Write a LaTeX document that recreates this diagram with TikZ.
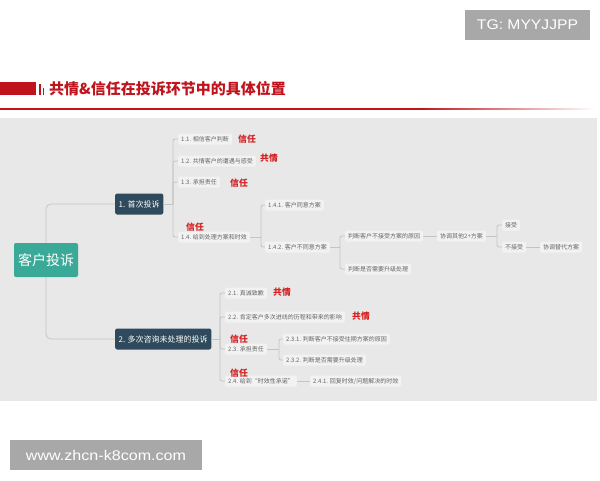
\documentclass[tikz,border=0pt]{standalone}
\usepackage{fontspec}
\setmainfont{Liberation Sans}
\newfontfamily\cjk{Noto Sans CJK SC}
\usetikzlibrary{positioning}
\definecolor{panelbg}{HTML}{E8E8E8}
\definecolor{leafbg}{HTML}{F2F2F2}
\definecolor{leaftx}{HTML}{666666}
\definecolor{darkbox}{HTML}{2E4A5C}
\definecolor{tealbox}{HTML}{3BA997}
\definecolor{tagred}{HTML}{D41F1F}
\definecolor{titlered}{HTML}{C0141C}
\definecolor{linkgray}{HTML}{C4C4C4}
\definecolor{wmgray}{HTML}{A8A8A8}
\tikzset{
  leaf/.style={anchor=west, fill=leafbg, rounded corners=1.5pt, inner xsep=3pt, inner ysep=0pt,
    minimum height=11pt, text=leaftx, font=\cjk\fontsize{6}{6.5}\selectfont},
  mainbox/.style={anchor=west, fill=darkbox, rounded corners=2pt, inner xsep=3.5pt, inner ysep=0pt,
    minimum height=21pt, text=white, font=\cjk\fontsize{8}{9}\selectfont},
  tag/.style={anchor=west, inner sep=0pt, text=tagred, font=\cjk\bfseries\fontsize{8.8}{9}\selectfont},
  link/.style={draw=linkgray, line width=0.8pt, rounded corners=2pt},
  wm/.style={fill=wmgray, inner sep=0pt}
}
\begin{document}
\begin{tikzpicture}[x=1pt,y=-1pt]
\useasboundingbox (0,0) rectangle (600,480);
\fill[white] (0,0) rectangle (600,480);
% watermark top
\node[wm, minimum width=125pt, minimum height=30pt] (tg) at (527.5,25) {};
\node[text=white, inner sep=0pt, font=\fontsize{14}{15}\selectfont, xscale=1.12, transform shape] (tgt) at (tg.center) {TG: MYYJJPP};
% title
\fill[titlered] (0,82) rectangle (36,95);
\fill[titlered] (38.5,84) rectangle (40.5,95);
\fill[titlered] (42.5,88) rectangle (43.8,95);
\node[anchor=west, inner sep=0pt, text=titlered, font=\cjk\bfseries\fontsize{15}{16}\selectfont] (title) at (49,89) {共情\&信任在投诉环节中的具体位置};
\fill[titlered] (0,108.2) rectangle (420,109.6);
\shade[left color=titlered, right color=white] (420,108.2) rectangle (596,109.6);
% panel
\fill[panelbg] (0,118) rectangle (597,401);
% root
\node[fill=tealbox, rounded corners=2pt, minimum width=64pt, minimum height=34pt, inner sep=0pt,
  text=white, font=\cjk\fontsize{14}{15}\selectfont] (root) at (46,260) {客户投诉};
\node[mainbox] (n1) at (115,204) {1. 首次投诉};
\node[mainbox] (n2) at (115,339) {2. 多次咨询未处理的投诉};
\draw[link, rounded corners=5pt] (root.north) |- (n1.west);
\draw[link, rounded corners=5pt] (root.south) |- (n2.west);
% branch 1
\node[leaf] (n11) at (178,139) {1.1. 相信客户判断};
\node[leaf] (n12) at (178,161) {1.2. 共情客户的遭遇与感受};
\node[leaf] (n13) at (178,182) {1.3. 承担责任};
\node[leaf] (n14) at (178,237) {1.4. 给到处理方案和时效};
\node[tag] (t11) at (238,139) {信任};
\node[tag] (t12) at (260,158) {共情};
\node[tag] (t13) at (230,183) {信任};
\node[tag] (t14) at (186,227) {信任};
\coordinate (b1) at (173,204);
\draw[link] (n1.east) -- (b1);
\foreach \c in {n11,n12,n13,n14} \draw[link] (b1) |- (\c.west);
\node[leaf] (n141) at (265,205) {1.4.1. 客户同意方案};
\node[leaf] (n142) at (265,247) {1.4.2. 客户不同意方案};
\coordinate (b14) at (261,237);
\draw[link] (n14.east) -- (b14);
\foreach \c in {n141,n142} \draw[link] (b14) |- (\c.west);
\node[leaf] (na) at (345,236) {判断客户不接受方案的原因};
\node[leaf] (nb) at (345,269) {判断是否需要升级处理};
\coordinate (b142) at (340,247);
\draw[link] (n142.east) -- (b142);
\foreach \c in {na,nb} \draw[link] (b142) |- (\c.west);
\node[leaf] (nc) at (437,236) {协调其他2+方案};
\draw[link] (na.east) -- (nc.west);
\node[leaf] (nd) at (502,225) {接受};
\node[leaf] (ne) at (502,247) {不接受};
\coordinate (bc) at (497,236);
\draw[link] (nc.east) -- (bc);
\foreach \c in {nd,ne} \draw[link] (bc) |- (\c.west);
\node[leaf] (nf) at (540,247) {协调替代方案};
\draw[link] (ne.east) -- (nf.west);
% branch 2
\node[leaf] (n21) at (225,293) {2.1. 真诚致歉};
\node[leaf] (n22) at (225,317) {2.2. 肯定客户多次进线的历程和带来的影响};
\node[leaf] (n23) at (225,349) {2.3. 承担责任};
\node[leaf] (n24) at (225,381) {2.4. 给到“时效性承诺”};
\node[tag] (t21) at (273,292) {共情};
\node[tag] (t22) at (352,316) {共情};
\node[tag] (t23) at (230,339) {信任};
\node[tag] (t24) at (230,373) {信任};
\coordinate (b2) at (220,339);
\draw[link] (n2.east) -- (b2);
\foreach \c in {n21,n22,n23,n24} \draw[link] (b2) |- (\c.west);
\node[leaf] (n231) at (283,339) {2.3.1. 判断客户不接受往期方案的原因};
\node[leaf] (n232) at (283,360) {2.3.2. 判断是否需要升级处理};
\coordinate (b23) at (279,349);
\draw[link] (n23.east) -- (b23);
\foreach \c in {n231,n232} \draw[link] (b23) |- (\c.west);
\node[leaf] (n241) at (310,381) {2.4.1. 回复时效/问题解决的时效};
\draw[link] (n24.east) -- (n241.west);
% watermark bottom
\node[wm, minimum width=192pt, minimum height=30pt] (url) at (106,455) {};
\node[text=white, inner sep=0pt, font=\fontsize{14}{15}\selectfont, xscale=1.15, transform shape] (urlt) at (url.center) {www.zhcn-k8com.com};
\end{tikzpicture}
\end{document}
